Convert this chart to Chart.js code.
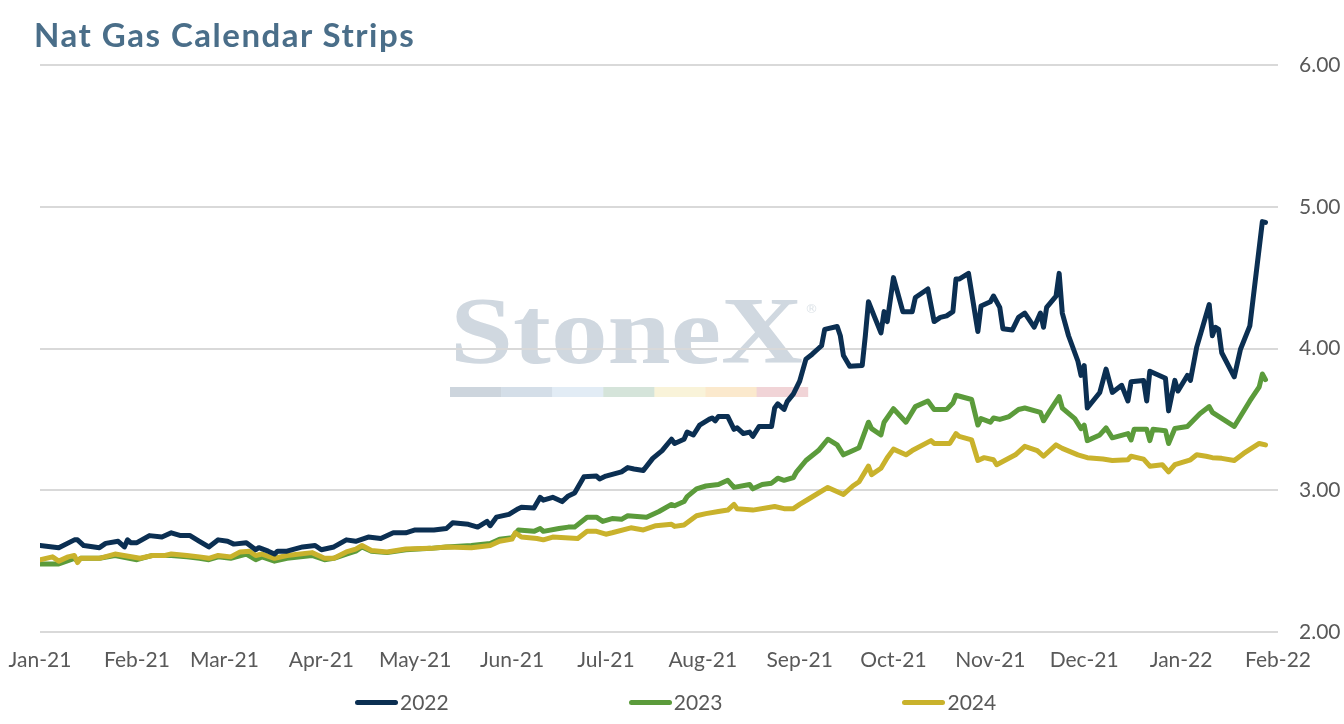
<!DOCTYPE html>
<html lang="en">
<head>
    <meta charset="UTF-8">
    <title>Nat Gas Calendar Strips</title>
    <script src="https://cdn.jsdelivr.net/npm/chart.js"></script>
    <style>
        body { margin: 0; background: #fff; font-family: Lato, sans-serif; }
        .wrap { position: relative; width: 1344px; height: 724px; overflow: hidden; }
        .title { position: absolute; left: 34px; top: 18px; font-size: 33px; line-height: 33px; letter-spacing: 1.5px; font-weight: bold; color: #4a6e89; }
        canvas { position: absolute; left: 0; top: 0; }
        .legend { position: absolute; left: 355px; top: 690px; display: flex; gap: 180px; }
        .legend .item { display: flex; align-items: center; line-height: 24px; font-size: 21px; color: #595959; }
        .legend .swatch { width: 43px; height: 5px; border-radius: 3px; margin-right: 2px; }
    </style>
</head>
<body>
<div class="wrap">
    <canvas id="chart" width="1344" height="724"></canvas>
    <div class="title">Nat Gas Calendar Strips</div>
    <div class="legend" id="legend"></div>
</div>

<script>
    // x axis: days since 1 Jan 2021, one tick per month
    const monthLabels = ['Jan-21', 'Feb-21', 'Mar-21', 'Apr-21', 'May-21', 'Jun-21', 'Jul-21',
                         'Aug-21', 'Sep-21', 'Oct-21', 'Nov-21', 'Dec-21', 'Jan-22', 'Feb-22'];
    const monthDays = [0, 31, 59, 90, 120, 151, 181, 212, 243, 273, 304, 334, 365, 396];
    const yTicks = [2, 3, 4, 5, 6];

    const seriesNames = ['2022', '2023', '2024'];
    const seriesColors = ['#0b2f52', '#5b9b3b', '#c9b22c'];

    // Cal 2022 strip
    const days2022 = [0,4,6,11,12,14,19,21,25,27, 28,29,31,35,39,42,45,48,51,54,
        57,60,62,66,69,70,73,75,76,79, 84,88,90,94,98,101,105,109,113,117,
        120,126,130,132,137,140,143,144,146,150, 153,154,158,160,161,164,167,169,171,174,
        178,179,181,186,188,190,193,196,199,202, 203,206,207,209,211,214,215,216,217,220,
        222,223,225,227,228,230,234,235,236,238, 239,241,243,245,247,249,250,251,255,256,
        257,259,263,264,265,267,269,270,271,273, 276,279,280,284,286,288,290,292,293,294,
        297,300,301,304,305,307,308,311,313,315, 318,320,321,322,325,326,327,329,332,333,
        334,335,339,341,343,346,348,349,353,354, 355,360,361,363,364,367,368,370,374,375,
        376,377,378,382,384,387,391,392];
    const price2022 = [2.61,2.60,2.595,2.65,2.65,2.61,2.595,2.625,2.64,2.60, 2.65,2.63,2.63,2.68,2.67,2.70,2.68,2.68,2.64,2.60,
        2.65,2.64,2.62,2.63,2.58,2.595,2.57,2.55,2.57,2.57, 2.60,2.61,2.58,2.60,2.65,2.64,2.67,2.66,2.70,2.70,
        2.72,2.72,2.73,2.77,2.76,2.74,2.78,2.75,2.81,2.83, 2.87,2.88,2.875,2.95,2.93,2.95,2.92,2.96,2.98,3.095,
        3.10,3.08,3.10,3.13,3.16,3.15,3.14,3.225,3.28,3.36, 3.33,3.36,3.41,3.39,3.46,3.50,3.51,3.49,3.52,3.52,
        3.43,3.44,3.40,3.41,3.38,3.45,3.45,3.58,3.61,3.57, 3.625,3.68,3.77,3.925,3.96,4.00,4.02,4.135,4.155,4.09,
        3.95,3.875,3.88,4.09,4.33,4.22,4.11,4.26,4.19,4.50, 4.26,4.26,4.36,4.42,4.19,4.22,4.23,4.26,4.49,4.49,
        4.53,4.12,4.30,4.33,4.37,4.29,4.14,4.13,4.22,4.25, 4.15,4.25,4.15,4.29,4.37,4.53,4.25,4.09,3.91,3.81,
        3.88,3.58,3.69,3.855,3.69,3.74,3.63,3.765,3.775,3.63, 3.84,3.79,3.56,3.775,3.70,3.81,3.775,4.01,4.31,4.09,
        4.15,4.135,3.97,3.80,3.995,4.16,4.895,4.89];

    // Cal 2023 strip
    const days2023 = [0,6,11,12,13,19,24,31,36,42, 47,51,54,57,61,66,69,71,75,79,
        87,91,94,98,101,103,106,111,117,125, 130,138,144,147,151,153,158,160,161,166,
        169,171,175,178,180,183,186,188,194,198, 202,203,206,207,210,213,217,220,222,227,
        228,231,234,236,238,241,242,245,249,252, 255,257,259,262,265,266,269,270,273,277,
        280,284,286,290,292,293,298,300,301,304, 305,307,310,313,315,320,321,323,326,327,
        331,333,334,335,339,341,343,348,349,350, 354,355,356,360,361,363,367,371,374,375,
        382,387,390,391,392];
    const price2023 = [2.48,2.48,2.52,2.50,2.52,2.52,2.54,2.51,2.54,2.54, 2.53,2.52,2.51,2.53,2.52,2.55,2.51,2.53,2.50,2.52,
        2.54,2.51,2.52,2.55,2.57,2.60,2.57,2.56,2.58,2.59, 2.60,2.61,2.625,2.655,2.665,2.72,2.71,2.73,2.71,2.73,
        2.74,2.74,2.81,2.81,2.78,2.80,2.795,2.82,2.81,2.85, 2.90,2.89,2.92,2.955,3.01,3.03,3.04,3.07,3.02,3.04,
        3.01,3.04,3.05,3.085,3.07,3.09,3.13,3.21,3.28,3.36, 3.32,3.25,3.27,3.30,3.48,3.435,3.39,3.48,3.575,3.48,
        3.59,3.63,3.57,3.57,3.615,3.67,3.64,3.46,3.505,3.48, 3.51,3.50,3.52,3.57,3.58,3.55,3.49,3.56,3.66,3.58,
        3.505,3.435,3.46,3.35,3.39,3.44,3.37,3.40,3.355,3.43, 3.43,3.35,3.43,3.42,3.33,3.435,3.45,3.54,3.59,3.55,
        3.45,3.63,3.73,3.82,3.78];

    // Cal 2024 strip
    const days2024 = [0,4,6,9,11,12,13,19,24,32, 36,40,42,47,51,54,57,61,64,67,
        69,71,75,79,87,91,94,98,101,103, 106,111,117,125,130,138,144,147,151,152,
        154,159,161,164,172,175,178,181,183,189, 193,197,202,203,206,210,213,217,220,222,
        223,228,235,238,241,243,246,252,257,260, 262,265,266,269,271,273,277,279,285,286,
        291,293,294,298,300,302,305,306,312,315, 319,321,325,327,332,335,340,343,348,349,
        353,355,359,361,363,368,370,373,375,378, 382,385,390,392];
    const price2024 = [2.51,2.53,2.50,2.53,2.54,2.49,2.52,2.52,2.55,2.52, 2.54,2.54,2.55,2.54,2.53,2.52,2.54,2.53,2.565,2.57,
        2.54,2.55,2.52,2.54,2.56,2.52,2.52,2.565,2.585,2.61, 2.575,2.565,2.585,2.59,2.60,2.595,2.61,2.64,2.655,2.70,
        2.67,2.66,2.65,2.67,2.66,2.71,2.71,2.69,2.70,2.735, 2.72,2.75,2.76,2.745,2.755,2.82,2.835,2.85,2.86,2.90,
        2.87,2.86,2.885,2.87,2.87,2.90,2.94,3.02,2.97,3.03, 3.06,3.17,3.11,3.155,3.23,3.29,3.25,3.28,3.35,3.33,
        3.33,3.40,3.38,3.355,3.21,3.23,3.215,3.18,3.25,3.31, 3.28,3.24,3.32,3.295,3.25,3.23,3.22,3.21,3.215,3.24,
        3.22,3.17,3.18,3.13,3.18,3.215,3.25,3.24,3.23,3.225, 3.21,3.26,3.33,3.32];

    const seriesDays = [days2022, days2023, days2024];
    const seriesPrices = [price2022, price2023, price2024];

    // StoneX logo behind the plot
    const watermark = {
        id: 'watermark',
        beforeDraw(chart) {
            const c = chart.ctx;
            c.save();
            c.font = 'bold 96px "Liberation Serif"';
            c.fillStyle = '#d0d8e0';
            const w = c.measureText('StoneX').width;
            c.translate(450, 363);
            c.scale(353 / w, 1);
            c.fillText('StoneX', 0, 0);
            c.restore();
            c.save();
            c.font = '13px "DejaVu Sans"';
            c.fillStyle = '#dde3e8';
            c.fillText('\u00AE', 805, 313);
            const bar = ['#cdd5dd', '#d4dee8', '#e2ecf5', '#d5e4da', '#f9f3d9', '#fbe9cd', '#f1d4d7'];
            bar.forEach((col, i) => {
                c.fillStyle = col;
                c.fillRect(450 + i * 51.1, 387, 51.6, 10);
            });
            c.restore();
        }
    };

    const tickFont = { family: 'Lato', size: 21 };

    new Chart(document.getElementById('chart'), {
        type: 'line',
        data: {
            datasets: seriesNames.map((name, i) => ({
                label: name,
                data: seriesDays[i].map((d, j) => ({ x: d, y: seriesPrices[i][j] })),
                borderColor: seriesColors[i],
                backgroundColor: seriesColors[i],
                order: i === 1 ? 1 : 0
            }))
        },
        options: {
            responsive: false,
            animation: false,
            layout: { padding: { left: 40, right: 0, top: 65, bottom: 51 } },
            plugins: { legend: { display: false }, tooltip: { enabled: false } },
            elements: {
                point: { radius: 0 },
                line: { tension: 0, borderWidth: 5, borderJoinStyle: 'round', borderCapStyle: 'round' }
            },
            scales: {
                x: {
                    type: 'linear', min: 0, max: 396,
                    grid: { display: false, drawTicks: false },
                    border: { display: false },
                    afterBuildTicks: s => { s.ticks = monthDays.map(v => ({ value: v })); },
                    afterFit: s => { s.height = 41; s.paddingLeft = 0; s.paddingRight = 0; },
                    ticks: {
                        autoSkip: false, maxRotation: 0, padding: 16, color: '#595959', font: tickFont,
                        callback: v => monthLabels[monthDays.indexOf(v)]
                    }
                },
                y: {
                    position: 'right', min: 2, max: 6,
                    grid: { color: '#d9d9d9', lineWidth: 2, drawTicks: false },
                    border: { display: false },
                    afterBuildTicks: s => { s.ticks = yTicks.map(v => ({ value: v })); },
                    afterFit: s => { s.width = 66; },
                    ticks: { padding: 21, color: '#595959', font: tickFont, callback: v => v.toFixed(2) }
                }
            }
        },
        plugins: [watermark]
    });

    // legend under the axis
    const legend = document.getElementById('legend');
    seriesNames.forEach((name, i) => {
        const item = document.createElement('div');
        item.className = 'item';
        item.innerHTML = '<span class="swatch" style="background:' + seriesColors[i] + '"></span>' + name;
        legend.appendChild(item);
    });
</script>
</body>
</html>
